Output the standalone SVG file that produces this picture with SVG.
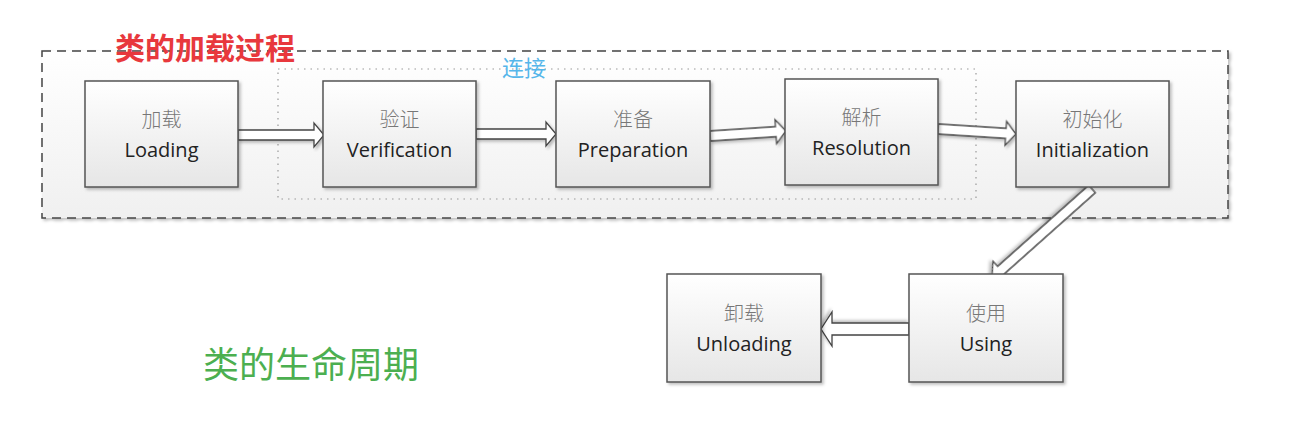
<svg xmlns="http://www.w3.org/2000/svg" width="1298" height="432" viewBox="0 0 1298 432">
<defs>
<linearGradient id="boxg" x1="0" y1="0" x2="0" y2="1"><stop offset="0" stop-color="#ffffff"/><stop offset="1" stop-color="#e6e6e6"/></linearGradient>
<linearGradient id="outg" x1="0" y1="0" x2="0" y2="1"><stop offset="0" stop-color="#ffffff"/><stop offset="1" stop-color="#f0f0f0"/></linearGradient>
<filter id="sh" x="-10%" y="-10%" width="130%" height="130%"><feDropShadow dx="2" dy="2" stdDeviation="1.5" flood-color="#000" flood-opacity="0.25"/></filter>
</defs>
<style>
.box{fill:url(#boxg);stroke:#555;stroke-width:1.5;filter:url(#sh)}
.zh{font-family:"Noto Sans CJK SC",sans-serif;font-size:20px;font-weight:300;fill:#777;text-anchor:middle}
.en{font-family:"Open Sans","Noto Sans",sans-serif;font-size:20px;fill:#222;text-anchor:middle}
.arr{fill:#fff;stroke:#444;stroke-width:1.3;stroke-linejoin:miter;filter:url(#sh)}
</style>
<rect width="1298" height="432" fill="#fff"/>
<rect x="42" y="51" width="1186" height="167" fill="url(#outg)" stroke="#444" stroke-width="1.5" stroke-dasharray="9,6" filter="url(#sh)"/>
<rect x="278" y="69" width="698" height="130" fill="none" stroke="#999" stroke-width="1.2" stroke-dasharray="1.5,5"/>
<text x="205" y="59" font-family="Noto Sans CJK SC,sans-serif" font-size="30" font-weight="bold" fill="#e8383d" text-anchor="middle">类的加载过程</text>
<text x="524" y="76" font-family="Noto Sans CJK SC,sans-serif" font-size="22" fill="#55b6ea" text-anchor="middle">连接</text>
<text x="311" y="378" font-family="Noto Sans CJK SC,sans-serif" font-size="36" fill="#4caf50" text-anchor="middle">类的生命周期</text>
<g id="connectors">
<path class="arr" transform="translate(238,135)" d="M0,-5 H76 V-12 L86,0 L76,12 V5 H0 Z"/>
<path class="arr" transform="translate(476,134)" d="M0,-5 H70 V-12 L80,0 L70,12 V5 H0 Z"/>
<path class="arr" transform="translate(710,136) rotate(-3.76)" d="M0,-5 H66 V-12 L76,0 L66,12 V5 H0 Z"/>
<path class="arr" transform="translate(938,129) rotate(3.67)" d="M0,-5 H68 V-12 L78,0 L68,12 V5 H0 Z"/>
<path class="arr" transform="translate(1092,189) rotate(138.3)" d="M0,-5 H122 V-12 L134,0 L122,12 V5 H0 Z"/>
<path class="arr" transform="translate(909,329) rotate(180)" d="M0,-6 H77 V-17 L88,0 L77,17 V6 H0 Z"/>
</g>
<g id="loading"><rect class="box" x="85" y="81" width="153" height="106"/><text class="zh" x="161.5" y="127">加载</text><text class="en" x="161.5" y="157">Loading</text></g>
<g id="verification"><rect class="box" x="323" y="81" width="153" height="106"/><text class="zh" x="399.5" y="127">验证</text><text class="en" x="399.5" y="157">Verification</text></g>
<g id="preparation"><rect class="box" x="556" y="81" width="154" height="106"/><text class="zh" x="633" y="127">准备</text><text class="en" x="633" y="157">Preparation</text></g>
<g id="resolution"><rect class="box" x="785" y="79" width="153" height="106"/><text class="zh" x="861.5" y="125">解析</text><text class="en" x="861.5" y="155">Resolution</text></g>
<g id="initialization"><rect class="box" x="1016" y="81" width="153" height="106"/><text class="zh" x="1092.5" y="127">初始化</text><text class="en" x="1092.5" y="157">Initialization</text></g>
<g id="using"><rect class="box" x="909" y="274" width="154" height="108"/><text class="zh" x="986" y="321">使用</text><text class="en" x="986" y="351">Using</text></g>
<g id="unloading"><rect class="box" x="667" y="274" width="154" height="108"/><text class="zh" x="744" y="321">卸载</text><text class="en" x="744" y="351">Unloading</text></g>
</svg>
